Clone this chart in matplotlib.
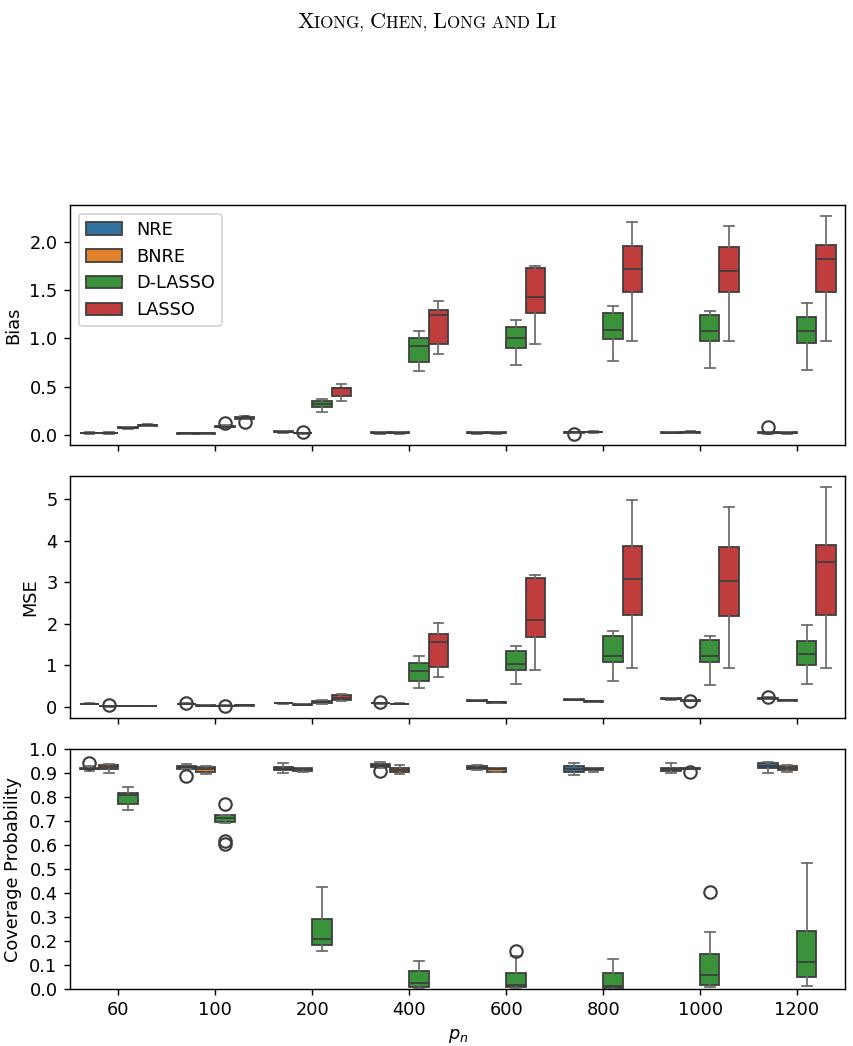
import numpy as np
import matplotlib
matplotlib.use('Agg')
import matplotlib.pyplot as plt
from matplotlib.patches import Patch

# categories / hue levels
p_labels = ['60', '100', '200', '400', '600', '800', '1000', '1200']
methods = ['NRE', 'BNRE', 'D-LASSO', 'LASSO']
colors = ['#3274a1', '#e1812c', '#3a923a', '#c03d3e']
line_col = '#3d3d3d'
whisk_col = '#6e6e6e'

# box stats per p_n: (whisker low, q1, median, q3, whisker high)
bias_nre = [(0.010, 0.015, 0.018, 0.022, 0.028), (0.008, 0.012, 0.015, 0.018, 0.024),
            (0.018, 0.025, 0.030, 0.036, 0.042), (0.012, 0.018, 0.022, 0.026, 0.032),
            (0.012, 0.018, 0.022, 0.026, 0.032), (0.020, 0.024, 0.027, 0.030, 0.034),
            (0.014, 0.020, 0.024, 0.028, 0.034), (0.012, 0.018, 0.022, 0.026, 0.032)]
bias_bnre = [(0.010, 0.015, 0.018, 0.022, 0.028), (0.008, 0.012, 0.015, 0.018, 0.024),
             (0.010, 0.014, 0.017, 0.020, 0.024), (0.012, 0.018, 0.022, 0.026, 0.032),
             (0.012, 0.017, 0.021, 0.025, 0.030), (0.022, 0.026, 0.030, 0.034, 0.038),
             (0.016, 0.022, 0.026, 0.030, 0.036), (0.012, 0.018, 0.022, 0.026, 0.032)]
bias_dlasso = [(0.060, 0.068, 0.072, 0.078, 0.085), (0.075, 0.080, 0.085, 0.090, 0.098),
               (0.24, 0.29, 0.32, 0.35, 0.37), (0.66, 0.75, 0.92, 1.00, 1.08),
               (0.72, 0.90, 1.00, 1.12, 1.19), (0.76, 0.99, 1.09, 1.26, 1.33),
               (0.69, 0.97, 1.07, 1.24, 1.28), (0.67, 0.95, 1.08, 1.22, 1.36)]
bias_lasso = [(0.088, 0.095, 0.100, 0.105, 0.112), (0.160, 0.168, 0.175, 0.183, 0.190),
              (0.35, 0.40, 0.48, 0.49, 0.53), (0.84, 0.94, 1.24, 1.29, 1.39),
              (0.94, 1.26, 1.43, 1.73, 1.75), (0.97, 1.48, 1.72, 1.96, 2.20),
              (0.97, 1.48, 1.70, 1.95, 2.16), (0.97, 1.48, 1.82, 1.97, 2.27)]
bias_fliers = [[[], [], [], [], [], [0.012], [], [0.08]],
               [[], [], [0.03], [], [], [], [], []],
               [[], [0.12], [], [], [], [], [], []],
               [[], [0.135], [], [], [], [], [], []]]

mse_nre = [(0.055, 0.060, 0.065, 0.070, 0.075), (0.055, 0.060, 0.065, 0.070, 0.075),
           (0.070, 0.075, 0.080, 0.085, 0.090), (0.070, 0.075, 0.080, 0.085, 0.090),
           (0.13, 0.14, 0.146, 0.152, 0.16), (0.15, 0.16, 0.17, 0.18, 0.19),
           (0.17, 0.18, 0.19, 0.20, 0.21), (0.18, 0.19, 0.20, 0.21, 0.22)]
mse_bnre = [(0.0, 0.005, 0.010, 0.015, 0.020), (0.015, 0.020, 0.025, 0.030, 0.035),
            (0.040, 0.045, 0.050, 0.055, 0.060), (0.055, 0.060, 0.065, 0.070, 0.075),
            (0.09, 0.095, 0.10, 0.105, 0.11), (0.115, 0.12, 0.13, 0.135, 0.14),
            (0.135, 0.14, 0.146, 0.152, 0.16), (0.14, 0.145, 0.15, 0.155, 0.16)]
mse_dlasso = [(0.005, 0.008, 0.010, 0.012, 0.015), (0.012, 0.016, 0.020, 0.024, 0.028),
              (0.06, 0.08, 0.11, 0.146, 0.16), (0.44, 0.61, 0.87, 1.06, 1.22),
              (0.54, 0.89, 1.04, 1.33, 1.46), (0.61, 1.08, 1.23, 1.70, 1.82),
              (0.53, 1.07, 1.22, 1.60, 1.71), (0.54, 1.00, 1.26, 1.58, 1.96)]
mse_lasso = [(0.008, 0.010, 0.012, 0.014, 0.016), (0.022, 0.026, 0.030, 0.034, 0.038),
             (0.13, 0.15, 0.21, 0.27, 0.30), (0.72, 0.95, 1.57, 1.75, 2.01),
             (0.88, 1.69, 2.08, 3.11, 3.17), (0.94, 2.20, 3.08, 3.88, 4.98),
             (0.94, 2.19, 3.03, 3.85, 4.81), (0.94, 2.20, 3.50, 3.90, 5.29)]
mse_fliers = [[[], [0.085], [], [0.105], [], [], [], [0.24]],
              [[0.03], [], [], [], [], [], [0.125], []],
              [[], [0.005], [], [], [], [], [], []],
              [[], [], [], [], [], [], [], []]]

cp_nre = [(0.907, 0.915, 0.918, 0.922, 0.929), (0.915, 0.918, 0.925, 0.930, 0.939),
          (0.901, 0.911, 0.918, 0.926, 0.942), (0.920, 0.926, 0.930, 0.937, 0.947),
          (0.912, 0.915, 0.922, 0.929, 0.933), (0.893, 0.903, 0.917, 0.928, 0.940),
          (0.900, 0.910, 0.917, 0.923, 0.940), (0.900, 0.923, 0.930, 0.943, 0.947)]
cp_bnre = [(0.901, 0.915, 0.925, 0.935, 0.936), (0.896, 0.903, 0.915, 0.925, 0.928),
           (0.904, 0.910, 0.917, 0.923, 0.923), (0.898, 0.905, 0.914, 0.919, 0.932),
           (0.903, 0.905, 0.915, 0.923, 0.923), (0.904, 0.914, 0.918, 0.923, 0.923),
           (0.915, 0.915, 0.918, 0.921, 0.921), (0.904, 0.911, 0.921, 0.929, 0.935)]
cp_dlasso = [(0.748, 0.772, 0.807, 0.816, 0.841), (0.693, 0.697, 0.713, 0.726, 0.726),
             (0.160, 0.182, 0.210, 0.293, 0.423), (0.0, 0.007, 0.024, 0.075, 0.118),
             (0.006, 0.008, 0.018, 0.067, 0.136), (0.0, 0.004, 0.014, 0.067, 0.125),
             (0.010, 0.015, 0.060, 0.146, 0.236), (0.014, 0.049, 0.111, 0.242, 0.523)]
cp_fliers = [[[0.94], [0.887], [], [0.908], [], [], [], []],
             [[], [], [], [], [], [], [0.903], []],
             [[], [0.772, 0.616, 0.606], [], [], [0.159], [], [0.405], []],
             [[], [], [], [], [], [], [], []]]

offsets = [-0.3, -0.1, 0.1, 0.3]


def draw_boxes(ax, data, fliers):
    for k in range(len(methods)):
        rows = data[k]
        if rows is None:
            continue
        stats = []
        for i, (lo, q1, med, q3, hi) in enumerate(rows):
            stats.append(dict(whislo=lo, q1=q1, med=med, q3=q3, whishi=hi,
                              fliers=fliers[k][i]))
        pos = np.arange(len(rows)) + offsets[k]
        ax.bxp(stats, positions=pos, widths=0.2, patch_artist=True,
               manage_ticks=False,
               boxprops=dict(facecolor=colors[k], edgecolor=line_col, linewidth=1.0),
               whiskerprops=dict(color=whisk_col, linewidth=1.0),
               capprops=dict(color=whisk_col, linewidth=1.0),
               medianprops=dict(color=line_col, linewidth=1.0),
               flierprops=dict(marker='o', markerfacecolor='none',
                               markeredgecolor=line_col, markersize=7,
                               markeredgewidth=1.2, linewidth=0))


dpi = 128
fig = plt.figure(figsize=(853 / dpi, 1046 / dpi), dpi=dpi)
left, width = 0.0821, 0.9091
ax1 = fig.add_axes([left, 0.5746, width, 0.2297])
ax2 = fig.add_axes([left, 0.3140, width, 0.2305])
ax3 = fig.add_axes([left, 0.0545, width, 0.2294])

draw_boxes(ax1, [bias_nre, bias_bnre, bias_dlasso, bias_lasso], bias_fliers)
draw_boxes(ax2, [mse_nre, mse_bnre, mse_dlasso, mse_lasso], mse_fliers)
draw_boxes(ax3, [cp_nre, cp_bnre, cp_dlasso, None], cp_fliers)

for ax in (ax1, ax2, ax3):
    ax.set_xlim(-0.5, len(p_labels) - 0.5)
    ax.set_xticks(np.arange(len(p_labels)))
    ax.set_xticklabels(p_labels)
ax1.tick_params(labelbottom=False)
ax2.tick_params(labelbottom=False)

ax1.set_ylabel('Bias')
ax2.set_ylabel('MSE')
ax3.set_ylabel('Coverage Probability')
ax3.set_ylim(0, 1)
ax3.set_yticks(np.arange(0, 1.01, 0.1))
ax3.set_xlabel('$p_n$')

handles = [Patch(facecolor=c, edgecolor=line_col, label=m) for m, c in zip(methods, colors)]
ax1.legend(handles=handles, loc='upper left')

# running header in small caps
pieces = [('X', 1), ('IONG, ', 0), ('C', 1), ('HEN, ', 0), ('L', 1), ('ONG AND ', 0),
          ('L', 1), ('I', 0)]
renderer = fig.canvas.get_renderer()
texts = []
total = 0
for s, big in pieces:
    t = fig.text(0, 0, s, fontfamily='cmr10', fontsize=12.5 if big else 9.5,
                 va='baseline', ha='left')
    w = t.get_window_extent(renderer).width
    texts.append((t, w))
    total += w
x = (fig.bbox.width - total) / 2
for t, w in texts:
    t.set_position((x / fig.bbox.width, 1 - 28 / 1046))
    x += w

fig.savefig('out.png', dpi=dpi)
